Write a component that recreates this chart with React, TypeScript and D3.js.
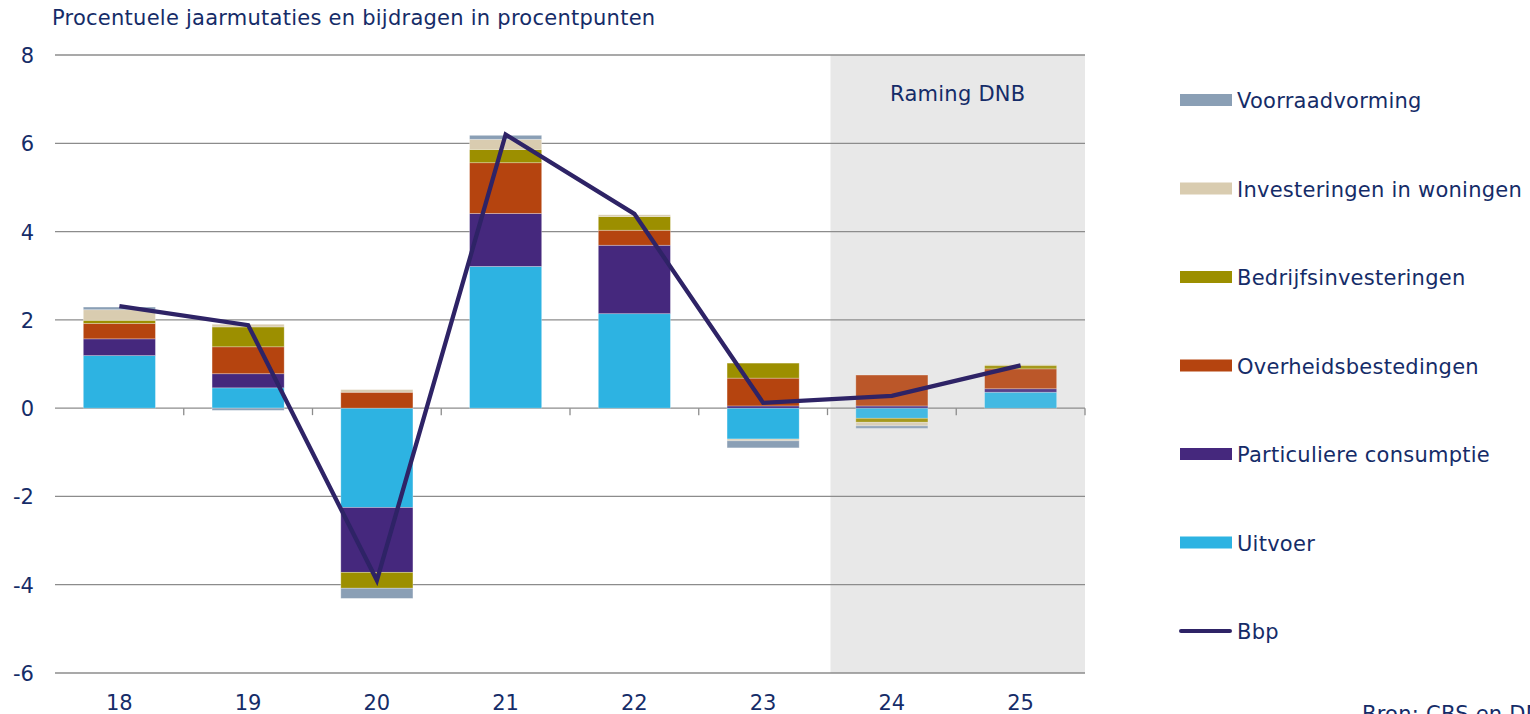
import React from "react";
import * as d3 from "d3";

const categories = ["18", "19", "20", "21", "22", "23", "24", "25"];
const uitvoer = [1.19, 0.46, -2.25, 3.21, 2.14, -0.7, -0.23, 0.36];
const particuliere = [0.38, 0.32, -1.47, 1.2, 1.55, 0.05, 0.05, 0.08];
const overheid = [0.35, 0.61, 0.36, 1.15, 0.34, 0.63, 0.7, 0.45];
const bedrijfs = [0.07, 0.45, -0.36, 0.3, 0.31, 0.34, -0.09, 0.08];
const woningen = [0.24, 0.06, 0.06, 0.23, 0.04, -0.04, -0.08, 0.02];
const voorraad = [0.06, -0.05, -0.23, 0.09, 0.0, -0.16, -0.06, 0.0];
const bbp = [2.31, 1.88, -3.9, 6.2, 4.4, 0.12, 0.28, 0.97];
const yTicks = [-6, -4, -2, 0, 2, 4, 6, 8];

const seriesKeys = ["uitvoer", "particuliere", "overheid", "bedrijfs", "woningen", "voorraad"];
const seriesLabels: Record<string, string> = {
  voorraad: "Voorraadvorming",
  woningen: "Investeringen in woningen",
  bedrijfs: "Bedrijfsinvesteringen",
  overheid: "Overheidsbestedingen",
  particuliere: "Particuliere consumptie",
  uitvoer: "Uitvoer",
};
const colors: Record<string, string> = {
  uitvoer: "#2DB3E2",
  particuliere: "#45287D",
  overheid: "#B5440F",
  bedrijfs: "#9C8F00",
  woningen: "#D9CCB0",
  voorraad: "#8A9FB5",
};
const legendOrder = ["voorraad", "woningen", "bedrijfs", "overheid", "particuliere", "uitvoer"];
const forecastYears = ["24", "25"];

const textColor = "#152C68";
const font = "'DejaVu Sans', Verdana, sans-serif";
const fs = 21;
const ls = 0.25;

export default function App() {
  const margin = { left: 55, right: 445, top: 55, bottom: 41 };
  const width = 1530;
  const height = 714;

  const x = d3
    .scaleBand<string>()
    .domain(categories)
    .range([margin.left, width - margin.right])
    .paddingInner(0.44)
    .paddingOuter(0.22);
  const y = d3.scaleLinear().domain([-6, 8]).range([height - margin.bottom, margin.top]);

  const rows = categories.map((c, i) => ({
    cat: c,
    uitvoer: uitvoer[i],
    particuliere: particuliere[i],
    overheid: overheid[i],
    bedrijfs: bedrijfs[i],
    woningen: woningen[i],
    voorraad: voorraad[i],
  }));
  const stacked = d3
    .stack<any>()
    .keys(seriesKeys)
    .offset(d3.stackOffsetDiverging)(rows);

  const step = x.step();
  const x0 = margin.left;
  const x1 = width - margin.right;
  const shadeStart = x0 + step * categories.indexOf(forecastYears[0]) + 3;

  const line = d3
    .line<number>()
    .x((_, i) => (x(categories[i]) || 0) + x.bandwidth() / 2)
    .y((d) => y(d));

  const legendX = 1180;
  const legendY0 = 100;
  const legendStep = 88.5;

  return (
    <svg
      width={width}
      height={height}
      style={{ position: "absolute", left: 0, top: 0, background: "#fff" }}
      fontFamily={font}
    >
      <text x={52} y={25} fontSize={fs} letterSpacing={ls} fill={textColor}>
        Procentuele jaarmutaties en bijdragen in procentpunten
      </text>

      {/* forecast shade */}
      <rect x={shadeStart} y={margin.top} width={x1 - shadeStart} height={y(-6) - margin.top} fill="#E8E8E8" />
      <text x={(shadeStart + x1) / 2} y={101} fontSize={fs} letterSpacing={ls} fill={textColor} textAnchor="middle">
        Raming DNB
      </text>

      {/* grid */}
      {yTicks.map((t) => (
        <g key={t}>
          <line x1={x0} x2={x1} y1={y(t)} y2={y(t)} stroke="#8C8C8C" strokeWidth={1.3} />
          <text x={34} y={y(t) + 8} fontSize={fs} fill={textColor} textAnchor="end">
            {t}
          </text>
        </g>
      ))}

      {/* bars */}
      {stacked.map((s) => (
        <g key={s.key} fill={colors[s.key]}>
          {s.map((d, i) => {
            const top = y(Math.max(d[0], d[1]));
            const h = Math.abs(y(d[0]) - y(d[1]));
            if (h < 0.01) return null;
            return (
              <rect
                key={i}
                x={x(categories[i])}
                y={top}
                width={x.bandwidth()}
                height={h}
                opacity={forecastYears.includes(categories[i]) ? 0.88 : 1}
                stroke="rgba(255,255,255,0.35)"
                strokeWidth={0.8}
              />
            );
          })}
        </g>
      ))}

      {/* x axis ticks */}
      {categories.map((c, i) => (
        <line
          key={c}
          x1={x0 + step * (i + 1)}
          x2={x0 + step * (i + 1)}
          y1={y(0)}
          y2={y(0) + 7}
          stroke="#8C8C8C"
          strokeWidth={1.3}
        />
      ))}
      {categories.map((c) => (
        <text
          key={c}
          x={(x(c) || 0) + x.bandwidth() / 2}
          y={height - 4}
          fontSize={fs}
          fill={textColor}
          textAnchor="middle"
        >
          {c}
        </text>
      ))}

      {/* Bbp line */}
      <path d={line(bbp) || ""} fill="none" stroke="#2E2366" strokeWidth={4.3} strokeLinejoin="miter" />

      {/* legend */}
      {legendOrder.map((k, i) => (
        <g key={k}>
          <rect x={legendX} y={legendY0 + i * legendStep - 6} width={52} height={12} fill={colors[k]} />
          <text x={legendX + 57} y={legendY0 + i * legendStep + 8} fontSize={fs} letterSpacing={ls} fill={textColor}>
            {seriesLabels[k]}
          </text>
        </g>
      ))}
      <line
        x1={legendX + 1}
        x2={legendX + 50}
        y1={legendY0 + 6 * legendStep}
        y2={legendY0 + 6 * legendStep}
        stroke="#2E2366"
        strokeWidth={4}
        strokeLinecap="round"
      />
      <text x={legendX + 57} y={legendY0 + 6 * legendStep + 8} fontSize={fs} letterSpacing={ls} fill={textColor}>
        Bbp
      </text>

      <text x={1362} y={721} fontSize={fs} letterSpacing={ls} fill={textColor}>
        Bron: CBS en DNB
      </text>
    </svg>
  );
}
